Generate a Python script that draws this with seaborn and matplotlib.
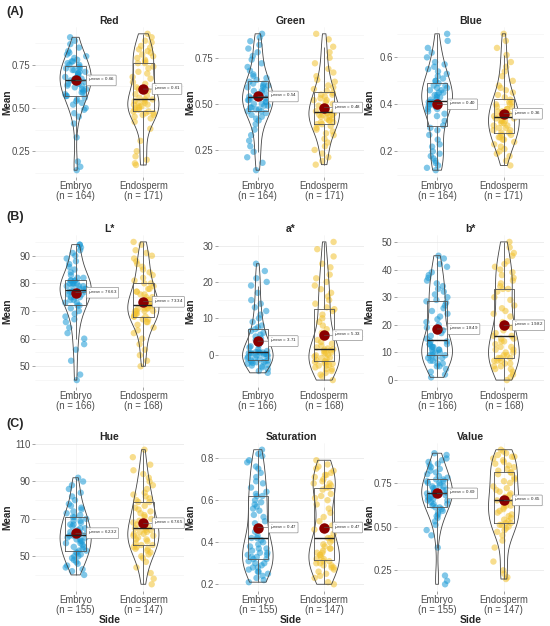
import numpy as np
import pandas as pd
import seaborn as sns
import matplotlib.pyplot as plt
from matplotlib.ticker import FixedLocator, AutoMinorLocator, FormatStrFormatter

sns.set_theme(style="whitegrid")
plt.rcParams["font.family"] = ["Liberation Sans", "DejaVu Sans"]

panels = ["Red", "Green", "Blue", "L*", "a*", "b*", "Hue", "Saturation", "Value"]
sides = ["Embryo", "Endosperm"]
n_embryo = [164, 164, 164, 166, 166, 166, 155, 155, 155]
n_endosperm = [171, 171, 171, 168, 168, 168, 147, 147, 147]
mean_embryo = [0.66, 0.54, 0.40, 76.63, 3.71, 18.49, 62.32, 0.47, 0.69]
mean_endosperm = [0.61, 0.48, 0.36, 73.34, 5.33, 19.82, 67.65, 0.47, 0.65]

# RGB / HSV values given in hundredths
red_embryo = np.array([14, 16, 19, 33, 41, 45, 47, 49, 50, 52, 53, 54, 55, 56, 57,
                       57, 58, 59, 59, 60, 61, 61, 62, 63, 63, 64, 64, 65, 65, 66,
                       66, 67, 67, 68, 68, 69, 70, 70, 71, 71, 72, 72, 73, 73, 74,
                       75, 75, 76, 77, 77, 78, 79, 80, 81, 82, 83, 85, 87, 89, 91]) / 100
red_endosperm = np.array([17, 18, 20, 22, 25, 31, 38, 42, 44, 45, 46, 46, 47, 47, 48,
                          48, 49, 49, 50, 50, 51, 51, 52, 52, 53, 53, 54, 54, 55, 55,
                          56, 57, 58, 60, 61, 62, 64, 65, 67, 68, 70, 71, 73, 74, 76,
                          76, 77, 78, 79, 80, 81, 82, 83, 84, 85, 86, 88, 89, 91, 93]) / 100
green_embryo = np.array([14, 18, 21, 24, 27, 30, 33, 36, 39, 41, 42, 43, 44, 45, 46,
                         46, 47, 47, 48, 48, 49, 49, 50, 50, 51, 51, 52, 52, 53, 53,
                         54, 54, 55, 55, 56, 57, 57, 58, 59, 59, 60, 60, 61, 61, 62,
                         63, 64, 65, 66, 68, 70, 72, 74, 76, 78, 80, 82, 84, 86, 88]) / 100
green_endosperm = np.array([17, 19, 21, 23, 25, 27, 29, 31, 33, 34, 35, 36, 37, 38, 39,
                            39, 40, 40, 41, 41, 42, 42, 43, 43, 44, 44, 44, 45, 45, 45,
                            46, 46, 47, 48, 48, 49, 50, 51, 52, 52, 53, 54, 55, 55, 56,
                            57, 58, 59, 60, 62, 63, 65, 67, 69, 72, 75, 78, 81, 85, 88]) / 100
blue_embryo = np.array([12, 13, 14, 15, 16, 17, 18, 19, 20, 22, 23, 25, 27, 29, 30,
                        31, 33, 35, 36, 37, 38, 38, 39, 39, 40, 40, 40, 41, 41, 41,
                        42, 42, 43, 43, 44, 44, 45, 45, 46, 46, 47, 47, 48, 48, 49,
                        50, 50, 51, 52, 53, 54, 55, 56, 57, 58, 60, 62, 64, 67, 70]) / 100
blue_endosperm = np.array([14, 16, 18, 19, 20, 21, 22, 23, 24, 25, 25, 26, 26, 27, 27,
                           28, 28, 29, 29, 30, 30, 31, 31, 32, 32, 33, 33, 33, 34, 34,
                           35, 35, 36, 36, 37, 37, 38, 38, 39, 39, 40, 40, 41, 41, 42,
                           43, 44, 45, 46, 47, 48, 50, 52, 54, 56, 58, 61, 64, 67, 70]) / 100
L_embryo = [45, 47, 52, 56, 58, 60, 62, 64, 66, 67, 68, 69, 70, 71, 72,
            72, 73, 73, 74, 74, 75, 75, 75, 76, 76, 76, 77, 77, 77, 77,
            78, 78, 78, 79, 79, 79, 79, 80, 80, 80, 80, 81, 81, 81, 81,
            82, 82, 83, 84, 85, 86, 87, 88, 89, 90, 91, 92, 93, 94, 94]
L_endosperm = [50, 52, 54, 56, 58, 60, 62, 63, 64, 65, 66, 66, 67, 67, 68,
               68, 68, 69, 69, 69, 70, 70, 70, 70, 71, 71, 71, 71, 72, 72,
               72, 73, 73, 74, 74, 75, 75, 76, 76, 77, 77, 78, 78, 79, 80,
               80, 81, 82, 83, 84, 85, 86, 87, 88, 89, 90, 91, 92, 94, 95]
a_embryo = [-5, -4.5, -4, -3.5, -3.2, -3, -2.8, -2.5, -2.3, -2.1, -2, -1.9, -1.8, -1.6, -1.5,
            -1.3, -1, -0.8, -0.6, -0.4, -0.2, 0, 0, 0.2, 0.3, 0.4, 0.5, 0.5, 0.6, 0.7,
            0.8, 1, 1.5, 2, 2.3, 2.6, 3, 3.4, 4, 4.5, 5, 5.5, 6, 6.5, 7,
            7.5, 8, 9, 10, 11, 12, 13, 14, 15, 17, 19, 20, 21, 23, 25]
a_endosperm = [-7, -6, -5.5, -5, -4.5, -4, -4, -3.5, -3, -3, -2.8, -2.5, -2.3, -2.1, -2,
               -1.8, -1.5, -1.2, -1, -0.8, -0.5, -0.2, 0, 0.3, 0.5, 0.7, 1, 1.2, 1.4, 1.5,
               1.7, 2, 2.5, 3, 3.5, 4, 5, 6, 7, 8, 9, 10, 11, 12, 12.5,
               13, 14, 15, 16, 17, 18, 19, 20, 21, 22, 24, 25, 27, 29, 31]
b_embryo = [1, 2, 3, 4, 5, 5, 6, 6, 7, 7, 8, 8, 8, 9, 9,
            9, 10, 10, 10, 11, 11, 11, 12, 12, 12, 13, 13, 13, 14, 14,
            15, 16, 17, 18, 19, 20, 21, 22, 23, 24, 25, 26, 27, 28, 28.5,
            29, 30, 31, 32, 33, 34, 35, 36, 37, 38, 39, 41, 42, 44, 45]
b_endosperm = [0, 1, 2, 3, 4, 4, 5, 5, 6, 6, 7, 7, 7, 8, 8,
               8, 9, 9, 10, 10, 11, 11, 12, 12, 13, 14, 14, 15, 15, 16,
               16, 17, 18, 19, 20, 21, 23, 24, 25, 26, 27, 29, 30, 32, 33,
               33, 34, 35, 36, 37, 38, 39, 40, 41, 42, 43, 45, 46, 48, 50]
hue_embryo = [40, 42, 43, 44, 45, 46, 47, 48, 49, 50, 50, 51, 52, 52, 53,
              53, 54, 55, 55, 56, 57, 57, 58, 58, 59, 59, 60, 60, 61, 61,
              62, 62, 63, 63, 64, 65, 65, 66, 67, 67, 68, 69, 69, 70, 71,
              71, 72, 73, 74, 75, 76, 77, 78, 80, 82, 84, 86, 88, 90, 92]
hue_endosperm = [35, 38, 41, 44, 47, 49, 50, 51, 52, 53, 54, 54, 55, 55, 56,
                 56, 57, 58, 59, 59, 60, 61, 61, 62, 62, 63, 63, 64, 64, 65,
                 65, 66, 67, 67, 68, 69, 70, 71, 72, 73, 74, 75, 76, 77, 79,
                 79, 80, 81, 82, 83, 84, 86, 88, 90, 92, 94, 96, 99, 103, 107]
sat_embryo = np.array([21, 22, 23, 24, 25, 26, 26, 27, 28, 28, 29, 30, 30, 31, 32,
                       32, 33, 33, 34, 34, 35, 35, 36, 37, 37, 38, 39, 40, 41, 42,
                       42, 43, 45, 47, 49, 50, 52, 53, 55, 56, 57, 58, 59, 60, 62,
                       62, 63, 64, 66, 68, 69, 71, 73, 75, 76, 78, 79, 81, 82, 84]) / 100
sat_endosperm = np.array([20, 21, 23, 24, 25, 26, 27, 28, 28, 29, 29, 30, 30, 31, 31,
                          32, 32, 33, 34, 34, 35, 35, 36, 37, 37, 38, 39, 40, 41, 42,
                          42, 44, 46, 48, 50, 52, 54, 56, 58, 60, 61, 62, 63, 65, 66,
                          66, 67, 68, 68, 69, 70, 71, 72, 72, 73, 74, 75, 76, 77, 79]) / 100
val_embryo = np.array([17, 19, 22, 38, 45, 48, 51, 53, 55, 56, 57, 58, 59, 60, 61,
                       61, 62, 63, 63, 64, 65, 65, 66, 66, 67, 67, 68, 68, 69, 69,
                       69, 70, 70, 71, 71, 72, 72, 73, 73, 74, 75, 75, 76, 76, 77,
                       77, 78, 79, 80, 81, 82, 83, 84, 85, 86, 87, 88, 89, 91, 92]) / 100
val_endosperm = np.array([20, 21, 23, 25, 30, 38, 42, 45, 47, 48, 49, 50, 51, 51, 52,
                          52, 53, 54, 55, 56, 57, 58, 59, 60, 61, 62, 62, 63, 64, 65,
                          65, 66, 67, 68, 69, 70, 71, 72, 73, 75, 76, 77, 78, 80, 81,
                          81, 82, 83, 84, 85, 86, 87, 88, 89, 90, 90, 91, 92, 93, 94]) / 100

embryo_vals = [red_embryo, green_embryo, blue_embryo, L_embryo, a_embryo, b_embryo,
               hue_embryo, sat_embryo, val_embryo]
endosperm_vals = [red_endosperm, green_endosperm, blue_endosperm, L_endosperm, a_endosperm,
                  b_endosperm, hue_endosperm, sat_endosperm, val_endosperm]

yticks = [[0.25, 0.50, 0.75], [0.25, 0.50, 0.75], [0.2, 0.4, 0.6],
          [50, 60, 70, 80, 90], [0, 10, 20, 30], [0, 10, 20, 30, 40, 50],
          [50, 70, 90, 110], [0.2, 0.4, 0.6, 0.8], [0.25, 0.50, 0.75]]
yfmt = ["%.2f", "%.2f", "%.1f", "%d", "%d", "%d", "%d", "%.1f", "%.2f"]
row_tags = ["(A)", "(B)", "(C)"]

colors = {"Embryo": "#1A9AD6", "Endosperm": "#F2C230"}
grey = "#4D4D4D"

W, H = 550, 626
fig = plt.figure(figsize=(5.5, 6.26), dpi=100)
col_left = [35, 218, 397]
col_w = [149, 146, 147]
row_top = [27, 235, 443]
row_h = [150, 152, 148]
label_shift = [0.18, 0.15]

for i, name in enumerate(panels):
    r, c = divmod(i, 3)
    ax = fig.add_axes([col_left[c] / W, 1 - (row_top[r] + row_h[r]) / H,
                       col_w[c] / W, row_h[r] / H])
    e = list(embryo_vals[i])
    d = list(endosperm_vals[i])
    df = pd.DataFrame({"Side": ["Embryo"] * len(e) + ["Endosperm"] * len(d),
                       "value": e + d})
    means = pd.DataFrame({"Side": sides, "mean": [mean_embryo[i], mean_endosperm[i]]})

    np.random.seed(i)
    sns.stripplot(data=df, x="Side", y="value", hue="Side", palette=colors, jitter=0.16,
                  size=4.6, alpha=0.55, linewidth=0, legend=False, ax=ax, zorder=1)
    sns.boxplot(data=df, x="Side", y="value", width=0.3, fill=False, color="#555555",
                linewidth=0.6, showfliers=False, showcaps=False,
                medianprops=dict(color="#222222", linewidth=1.0), ax=ax)
    sns.violinplot(data=df, x="Side", y="value", cut=0, inner=None, fill=False,
                   width=0.46, density_norm="width", color="#444444", linewidth=0.6, ax=ax)
    sns.pointplot(data=means, x="Side", y="mean", color="#8B0000", linestyle="none",
                  markersize=5.5, errorbar=None, ax=ax)

    for j, m in enumerate(means["mean"]):
        ax.annotate(r"$\hat{\mu}_{\mathrm{mean}}$ = " + f"{m:.2f}", xy=(j, m),
                    xytext=(j + label_shift[j], m), fontsize=3.2, va="center", ha="left",
                    color="#222222", zorder=6,
                    bbox=dict(boxstyle="round,pad=0.3,rounding_size=0.15", fc="white",
                              ec="#777777", lw=0.4),
                    arrowprops=dict(arrowstyle="-", color="#555555", lw=0.4,
                                    shrinkA=0, shrinkB=0))

    allv = e + d
    lo, hi = min(allv), max(allv)
    pad = 0.05 * (hi - lo)
    ax.set_ylim(lo - pad, hi + pad)
    ax.set_xlim(-0.6, 1.6)

    ax.yaxis.set_major_locator(FixedLocator(yticks[i]))
    ax.yaxis.set_major_formatter(FormatStrFormatter(yfmt[i]))
    ax.yaxis.set_minor_locator(AutoMinorLocator(2))
    ax.set_xticks([0, 1])
    ax.set_xticklabels([f"Embryo\n(n = {n_embryo[i]})", f"Endosperm\n(n = {n_endosperm[i]})"],
                       linespacing=1.0)
    ax.tick_params(axis="both", labelsize=6.9, labelcolor=grey, length=2, width=0.5,
                   color="#7F7F7F", left=True, bottom=True, pad=1.2)
    ax.grid(which="major", axis="y", color="#E6E6E6", linewidth=0.5)
    ax.grid(which="minor", axis="y", color="#F2F2F2", linewidth=0.4)
    ax.grid(which="major", axis="x", color="#F0F0F0", linewidth=0.4)
    ax.set_axisbelow(True)
    sns.despine(ax=ax, left=True, bottom=True)

    ax.set_title(name, fontsize=7.5, fontweight="bold", pad=2.5)
    ax.set_ylabel("Mean", fontsize=7.2, fontweight="bold")
    ax.yaxis.set_label_coords(-0.155, 0.5)
    if r == 2:
        ax.set_xlabel("Side", fontsize=7.5, fontweight="bold", labelpad=0)
    else:
        ax.set_xlabel("")

for r, tag in enumerate(row_tags):
    fig.text(6 / W, 1 - [12, 217, 424][r] / H, tag, fontsize=9, fontweight="bold",
             va="center", ha="left")

fig.savefig("out.png", dpi=100)
